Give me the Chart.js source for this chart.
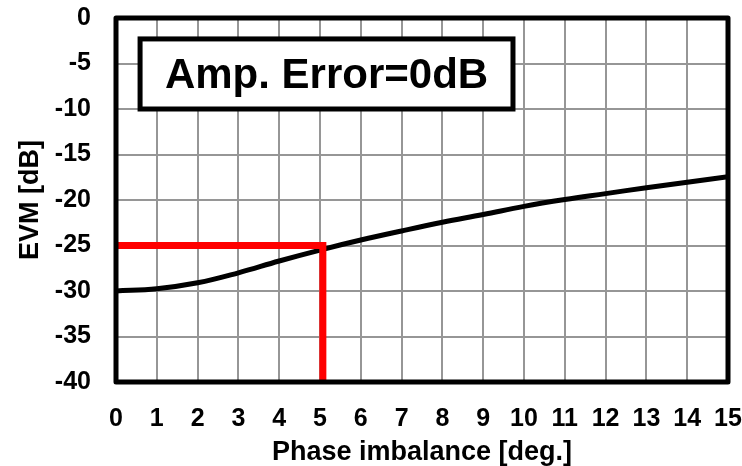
<!DOCTYPE html>
<html>
<head>
<meta charset="utf-8">
<script src="https://cdn.jsdelivr.net/npm/chart.js@4/dist/chart.umd.min.js"></script>
<style>
  html, body { margin: 0; padding: 0; background: #fff; }
  #wrap { width: 742px; height: 466px; }
</style>
</head>
<body>
<div id="wrap"><canvas id="chart" width="742" height="466"></canvas></div>
<script>
// phase imbalance [deg.] and EVM [dB]
const phaseDeg = [0, 1, 2, 3, 4, 5, 6, 7, 8, 9, 10, 11, 12, 13, 14, 15];
const evmDb = [-30.0, -29.75, -29.1, -28.0, -26.7, -25.5, -24.4, -23.4,
  -22.45, -21.6, -20.7, -19.95, -19.3, -18.65, -18.05, -17.45];

// red marker: -25 dB reached at about 5.07 deg.
const markerPhase = 5.07;
const markerEvm = -25;

const xTicks = [0, 1, 2, 3, 4, 5, 6, 7, 8, 9, 10, 11, 12, 13, 14, 15];
const yTicks = [0, -5, -10, -15, -20, -25, -30, -35, -40];

const boxLabel = 'Amp. Error=0dB';
const boxRange = { x0: 0.59, x1: 9.73, y0: -2.3, y1: -10.0 };

const FONT = '"Liberation Sans", Arial, sans-serif';

// text box in the upper left, placed in data units
const labelBox = {
  id: 'labelBox',
  afterDatasetsDraw(chart) {
    const { ctx, scales: { x, y } } = chart;
    const l = x.getPixelForValue(boxRange.x0);
    const r = x.getPixelForValue(boxRange.x1);
    const t = y.getPixelForValue(boxRange.y0);
    const b = y.getPixelForValue(boxRange.y1);
    ctx.save();
    ctx.fillStyle = '#fff';
    ctx.fillRect(l, t, r - l, b - t);
    ctx.lineWidth = 5;
    ctx.strokeStyle = '#000';
    ctx.strokeRect(l, t, r - l, b - t);
    ctx.fillStyle = '#000';
    ctx.font = 'bold 42px ' + FONT;
    ctx.textAlign = 'center';
    ctx.textBaseline = 'middle';
    ctx.fillText(boxLabel, (l + r) / 2, (t + b) / 2 + 2);
    ctx.restore();
  }
};

// thick black frame round the plot
const frame = {
  id: 'frame',
  afterDraw(chart) {
    const { ctx, chartArea: a } = chart;
    ctx.save();
    ctx.lineWidth = 5;
    ctx.strokeStyle = '#000';
    ctx.lineJoin = 'round';
    ctx.strokeRect(a.left, a.top, a.right - a.left, a.bottom - a.top);
    ctx.restore();
  }
};

// fixed axis sizes, no automatic room for the end labels
function fixX(s) {
  s.height = 84;
  s.paddingLeft = 0;
  s.paddingRight = 0;
}
function fixY(s) {
  s.width = 116;
  s.paddingTop = 0;
  s.paddingBottom = 0;
}

const ctx = document.querySelector('#chart').getContext('2d');
new Chart(ctx, {
  type: 'scatter',
  data: {
    datasets: [
      {
        label: 'marker',
        data: [
          { x: 0, y: markerEvm },
          { x: markerPhase, y: markerEvm },
          { x: markerPhase, y: -40 },
        ],
        showLine: true,
        borderColor: '#ff0000',
        borderWidth: 7,
        borderJoinStyle: 'miter',
        borderCapStyle: 'butt',
        tension: 0,
        pointRadius: 0,
        order: 0,
      },
      {
        label: 'EVM',
        data: phaseDeg.map((p, i) => ({ x: p, y: evmDb[i] })),
        showLine: true,
        borderColor: '#000',
        borderWidth: 5,
        tension: 0.4,
        pointRadius: 0,
        order: 1,
      },
    ],
  },
  options: {
    responsive: false,
    animation: false,
    layout: { padding: { top: 18, right: 14, left: 0, bottom: 0 } },
    plugins: { legend: { display: false }, tooltip: { enabled: false } },
    scales: {
      x: {
        type: 'linear',
        min: 0,
        max: 15,
        afterBuildTicks: (s) => { s.ticks = xTicks.map(v => ({ value: v })); },
        afterFit: fixX,
        grid: { color: '#969696', lineWidth: 2, drawTicks: false },
        border: { display: false },
        ticks: {
          color: '#000',
          font: { family: FONT, size: 25, weight: 'bold' },
          padding: 22,
          maxRotation: 0,
          autoSkip: false,
        },
        title: {
          display: true,
          text: 'Phase imbalance [deg.]',
          color: '#000',
          font: { family: FONT, size: 27, weight: 'bold' },
          padding: { top: 0, bottom: -3 },
        },
      },
      y: {
        type: 'linear',
        min: -40,
        max: 0,
        afterBuildTicks: (s) => { s.ticks = yTicks.map(v => ({ value: v })); },
        afterFit: fixY,
        grid: { color: '#969696', lineWidth: 2, drawTicks: false },
        border: { display: false },
        ticks: {
          color: '#000',
          font: { family: FONT, size: 25, weight: 'bold' },
          padding: 25,
          autoSkip: false,
        },
        title: {
          display: true,
          text: 'EVM [dB]',
          color: '#000',
          font: { family: FONT, size: 27, weight: 'bold' },
          padding: { top: 14, bottom: 0 },
        },
      },
    },
  },
  plugins: [labelBox, frame],
});
</script>
</body>
</html>
